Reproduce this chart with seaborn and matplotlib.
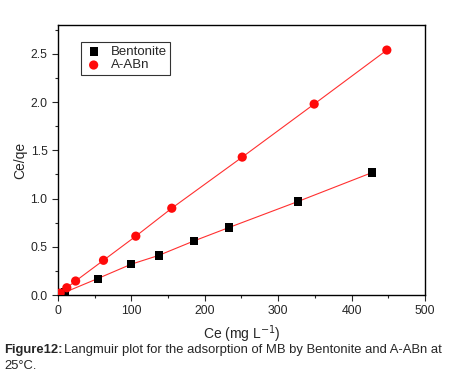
import numpy as np
import pandas as pd
import matplotlib
matplotlib.use("Agg")
import matplotlib.pyplot as plt
import seaborn as sns
from matplotlib.ticker import MultipleLocator

# Langmuir plot data
bent_ce = [3, 10, 54, 100, 137, 185, 233, 327, 428]
bent_ceqe = [0.01, 0.03, 0.17, 0.32, 0.41, 0.56, 0.70, 0.97, 1.27]
aabn_ce = [3, 12, 24, 62, 106, 155, 251, 349, 448]
aabn_ceqe = [0.02, 0.075, 0.145, 0.36, 0.61, 0.90, 1.43, 1.98, 2.54]

bent = pd.DataFrame({"Ce": bent_ce, "Ce/qe": bent_ceqe})
aabn = pd.DataFrame({"Ce": aabn_ce, "Ce/qe": aabn_ceqe})

sns.set_style("ticks")
plt.rcParams["font.family"] = ["Liberation Sans", "DejaVu Sans"]

fig = plt.figure(figsize=(4.6, 3.82), dpi=100)
ax = fig.add_axes([58 / 460, 1 - 295 / 382, 367 / 460, 270 / 382])

sns.lineplot(data=bent, x="Ce", y="Ce/qe", color="#ff3030", lw=0.8, ax=ax)
sns.lineplot(data=aabn, x="Ce", y="Ce/qe", color="#ff3030", lw=0.8, ax=ax)
sns.scatterplot(data=bent, x="Ce", y="Ce/qe", marker="s", s=34, color="black",
                edgecolor="none", label="Bentonite", ax=ax, zorder=3)
sns.scatterplot(data=aabn, x="Ce", y="Ce/qe", marker="o", s=44, color="#ff0a0a",
                edgecolor="none", label="A-ABn", ax=ax, zorder=3)

ax.set_xlim(0, 500)
ax.set_ylim(0, 2.8)
ax.xaxis.set_major_locator(MultipleLocator(100))
ax.xaxis.set_minor_locator(MultipleLocator(50))
ax.yaxis.set_major_locator(MultipleLocator(0.5))
ax.yaxis.set_minor_locator(MultipleLocator(0.25))
ax.tick_params(which="both", direction="out", top=False, right=False, labelsize=8.8, width=0.8)
ax.tick_params(which="major", length=4)
ax.tick_params(which="minor", length=2.5)
for s in ax.spines.values():
    s.set_linewidth(1.0)
    s.set_color("black")

ax.set_xlabel("Ce (mg L$^{-1}$)", fontsize=10)
ax.set_ylabel("Ce/qe", fontsize=10, labelpad=2)

leg = ax.legend(loc="upper left", bbox_to_anchor=(0.045, 0.96), fontsize=9.5,
                frameon=True, fancybox=False, edgecolor="black", borderpad=0.25,
                handletextpad=0.6, labelspacing=0.1, handlelength=1.4)
leg.get_frame().set_linewidth(0.8)

fig.text(4 / 460, 1 - 350 / 382, "Figure12:", fontsize=9.4, fontweight="bold", va="center")
fig.text(64 / 460, 1 - 350 / 382,
         "Langmuir plot for the adsorption of MB by Bentonite and A-ABn at",
         fontsize=9.4, va="center")
fig.text(4 / 460, 1 - 366 / 382, "25°C.", fontsize=9.4, va="center")

fig.savefig("out.png", dpi=100)
